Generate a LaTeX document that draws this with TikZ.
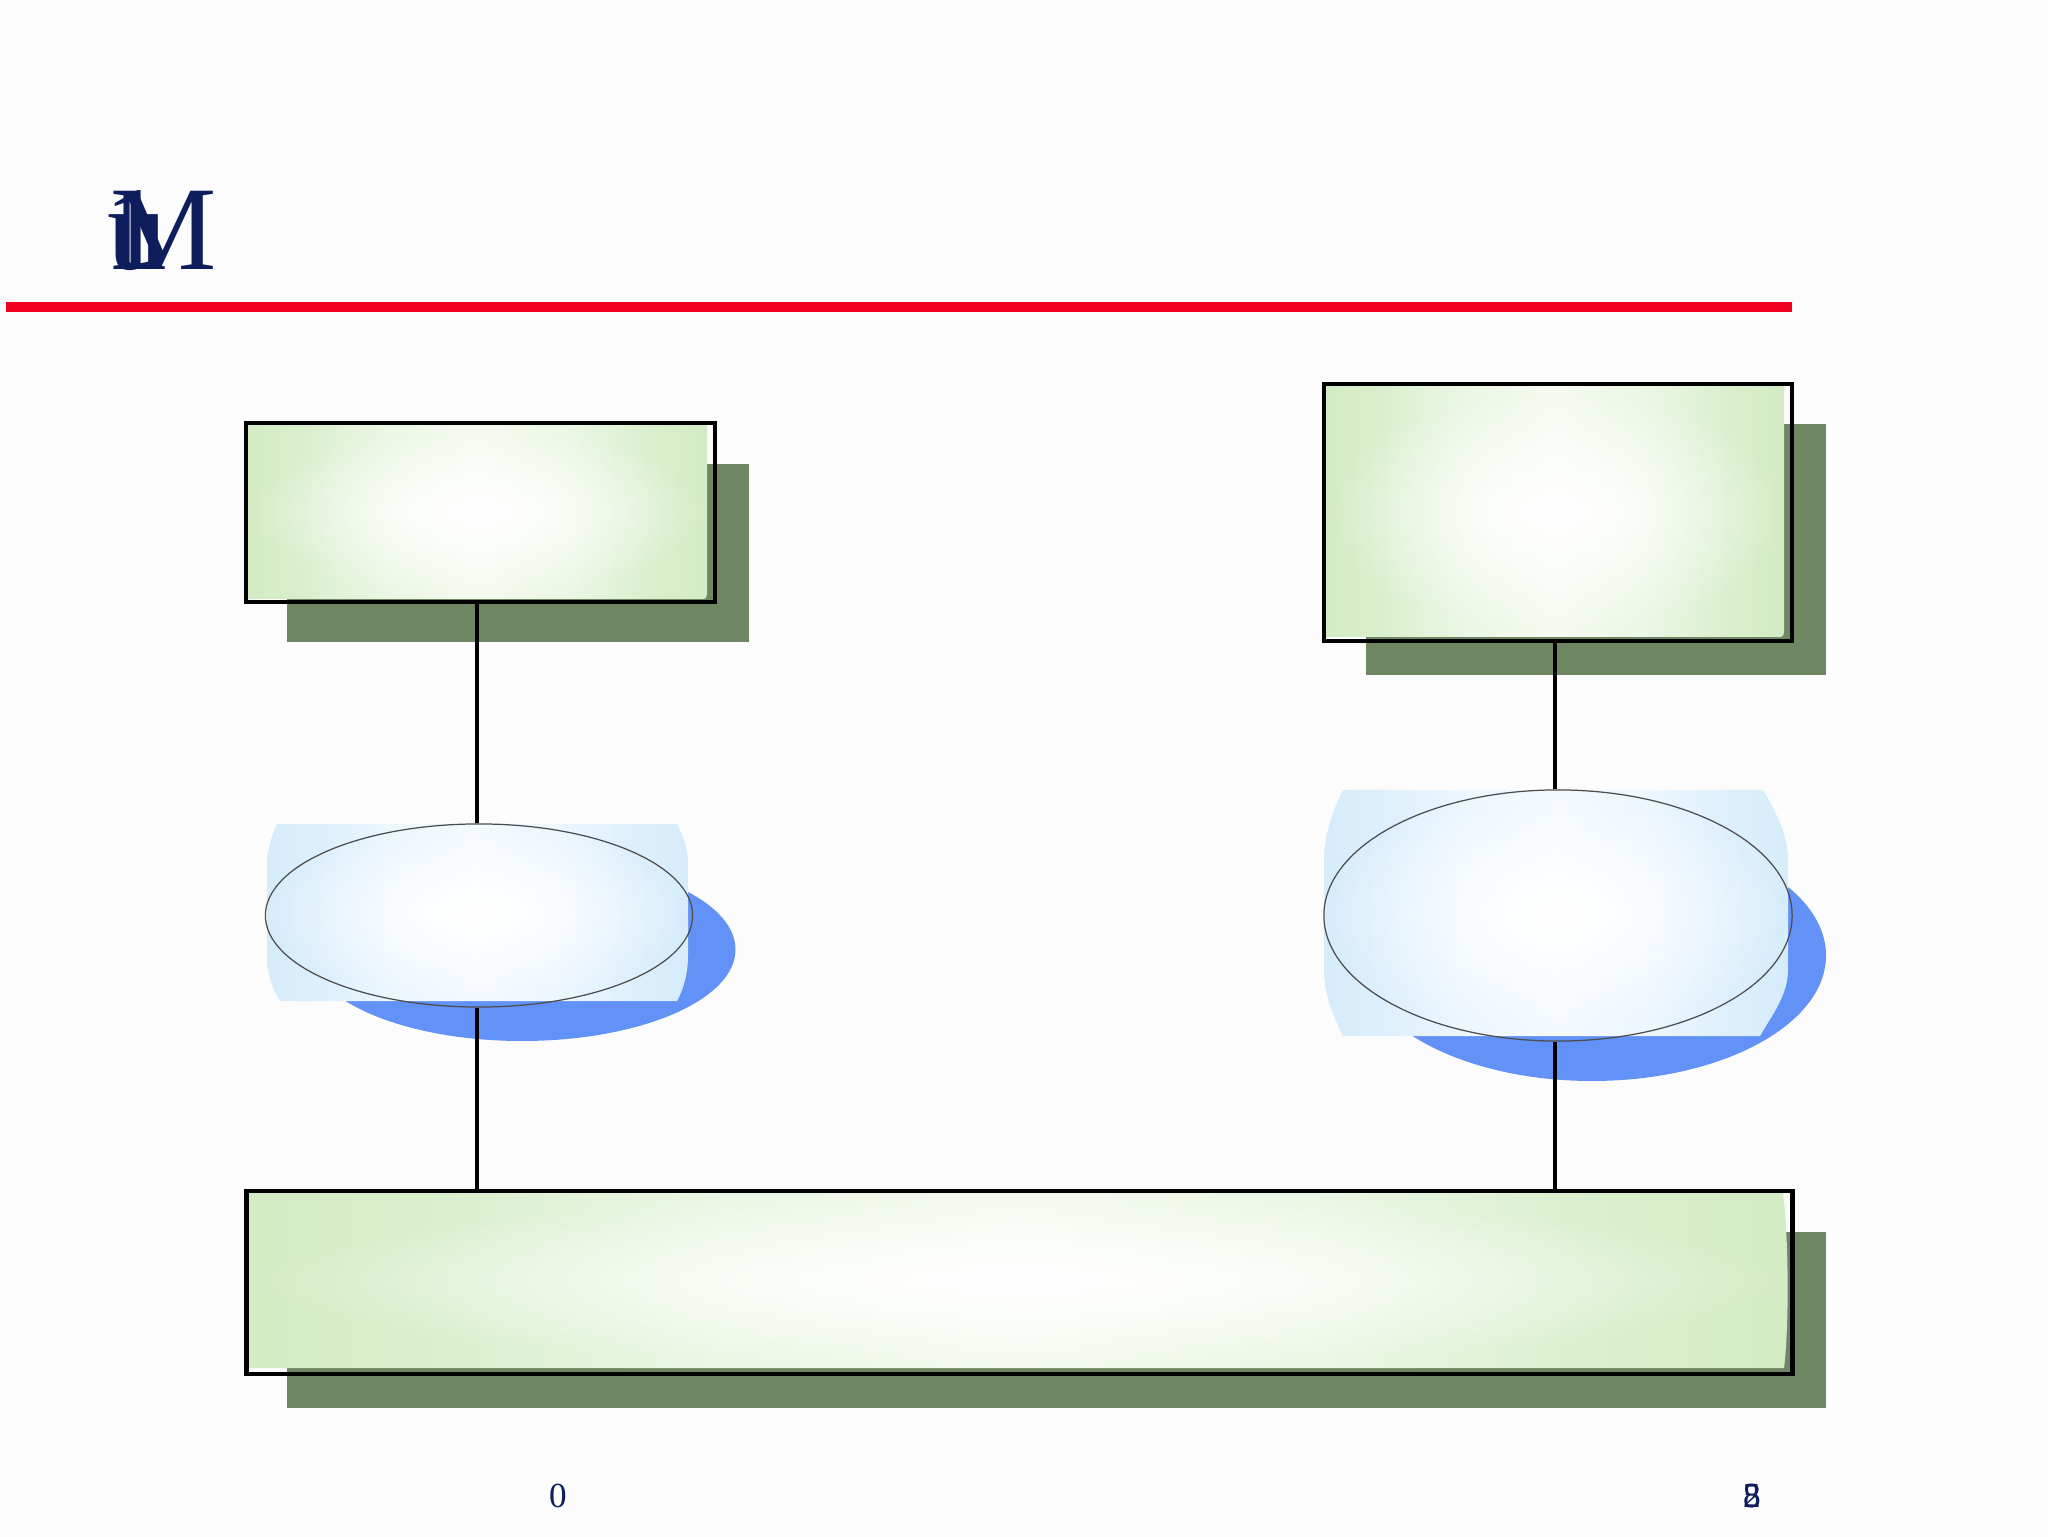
\documentclass[tikz,border=0pt]{standalone}
\usepackage{fontspec}
\setmainfont{Liberation Serif}
\usetikzlibrary{shapes.geometric,fadings}
\definecolor{navy}{RGB}{14,30,92}
\definecolor{redline}{RGB}{240,0,30}
\definecolor{shadowgreen}{RGB}{110,134,98}
\definecolor{edgegreen}{RGB}{211,236,195}
\definecolor{edgeblue}{RGB}{214,236,251}
\definecolor{shadowblue}{RGB}{98,145,247}
\pgfdeclarehorizontalshading{greenband}{100bp}{color(0bp)=(edgegreen); color(25bp)=(edgegreen);
  color(31bp)=(edgegreen!85!white); color(40bp)=(edgegreen!45!white); color(50bp)=(edgegreen!25!white);
  color(60bp)=(edgegreen!45!white); color(69bp)=(edgegreen!85!white); color(75bp)=(edgegreen); color(100bp)=(edgegreen)}
\pgfdeclarehorizontalshading{blueband}{100bp}{color(0bp)=(edgeblue); color(25bp)=(edgeblue);
  color(31bp)=(edgeblue!85!white); color(40bp)=(edgeblue!45!white); color(50bp)=(edgeblue!25!white);
  color(60bp)=(edgeblue!45!white); color(69bp)=(edgeblue!85!white); color(75bp)=(edgeblue); color(100bp)=(edgeblue)}
\tikzfading[name=glowfade, inner color=transparent!0, outer color=transparent!100]
\pgfdeclarelayer{bg}
\pgfdeclarelayer{paper}
\pgfsetlayers{paper,bg,main}
\tikzset{
  boxframe/.style={draw=black, line width=1.2pt, rectangle, inner sep=0pt},
  ovalframe/.style={draw=black!70, line width=0.35pt, ellipse, inner sep=0pt},
  greenfill/.style={shading=greenband},
  bluefill/.style={shading=blueband},
  glow/.style={fill=white, path fading=glowfade},
  gshadow/.style={fill=shadowgreen},
  bshadow/.style={fill=shadowblue},
  link/.style={draw=black, line width=1.05pt},
  titletext/.style={anchor=base west, inner sep=0pt, text=navy, font=\fontsize{34}{34}\selectfont},
  pagetext/.style={anchor=base, inner sep=0pt, text=navy, font=\fontsize{10}{10}\selectfont}
}
\begin{document}
\begin{tikzpicture}[x=0.01cm,y=-0.01cm]
\useasboundingbox (0,0) rectangle (2048,1537);
\begin{pgfonlayer}{paper}
  \fill[white!99!black] (0,0) rectangle (2048,1537);
\end{pgfonlayer}
% title
\node[titletext] (tU) at (107,270) {u};
\node[titletext] (t1) at (104,270) {1};
\node[titletext] (tM) at (110,270) {M};
\fill[redline] (6,302) rectangle (1792,312);

% main nodes (frames)
\node[boxframe, minimum width=4.69cm, minimum height=1.79cm] (A) at (480.5,512.5) {};
\node[boxframe, minimum width=4.68cm, minimum height=2.57cm] (B) at (1558,512.5) {};
\node[boxframe, minimum width=15.45cm, minimum height=1.83cm] (C) at (1019.5,1282.5) {};
\node[ovalframe, minimum width=4.27cm, minimum height=1.83cm] (E1) at (479,915.5) {};
\node[ovalframe, minimum width=4.68cm, minimum height=2.51cm] (E2) at (1558,915.5) {};

\begin{pgfonlayer}{bg}
  % shadows
  \path[gshadow] (287,464) rectangle (749,642);
  \path[gshadow] (1366,424) rectangle (1826,675);
  \path[gshadow] (287,1232) rectangle (1826,1408);
  \path[bshadow] (522,949.5) ellipse [x radius=213.5, y radius=91.5];
  \path[bshadow] (1592,955.5) ellipse [x radius=234, y radius=125.5];
  % connectors
  \draw[link] ([xshift=-0.035cm]A.south) -- ([xshift=-0.02cm]E1.north);
  \draw[link] ([xshift=-0.02cm]E1.south) -- ([xshift=-0.02cm]E1.south |- C.north);
  \draw[link] ([xshift=-0.03cm]B.south) -- ([xshift=-0.03cm]E2.north);
  \draw[link] ([xshift=-0.03cm]E2.south) -- ([xshift=-0.03cm]E2.south |- C.north);
  % fills
  \foreach \sty in {greenfill,glow}{
    \path[\sty] (248,425) -- (707,425) -- (707,594) .. controls (707,597) and (706,598) .. (704,599) -- (248,599) -- cycle;
    \path[\sty] (1326,386) -- (1784,386) -- (1784,632) .. controls (1784,635) and (1783,636) .. (1781,637) -- (1326,637) -- cycle;
    \path[\sty] (249,1193) -- (1783,1193) .. controls (1789,1240) and (1789,1330) .. (1784,1368) -- (249,1368) -- cycle;
  }
  \foreach \sty in {bluefill,glow}{
    \path[\sty] (277,824) -- (677,824) .. controls (684,838) and (688,850) .. (688,865) -- (688,955)
       .. controls (688,975) and (683,990) .. (677,1001) -- (280,1001) .. controls (273,990) and (267,975) .. (267,955)
       -- (267,865) .. controls (267,850) and (271,838) .. (277,824) -- cycle;
    \path[\sty] (1343,790) -- (1763,790) .. controls (1775,810) and (1788,835) .. (1788,860) -- (1788,970)
       .. controls (1788,995) and (1772,1015) .. (1760,1036) -- (1343,1036) .. controls (1333,1015) and (1324,995) .. (1324,970)
       -- (1324,860) .. controls (1324,835) and (1333,810) .. (1343,790) -- cycle;
  }
\end{pgfonlayer}

% page numbers
\node[pagetext] (p0) at (558,1507) {0};
\node[pagetext] (p8) at (1752,1507) {8};
\node[pagetext] (p5) at (1752,1507) {5};
\node[pagetext] (p2) at (1752,1507) {2};
\end{tikzpicture}
\end{document}
